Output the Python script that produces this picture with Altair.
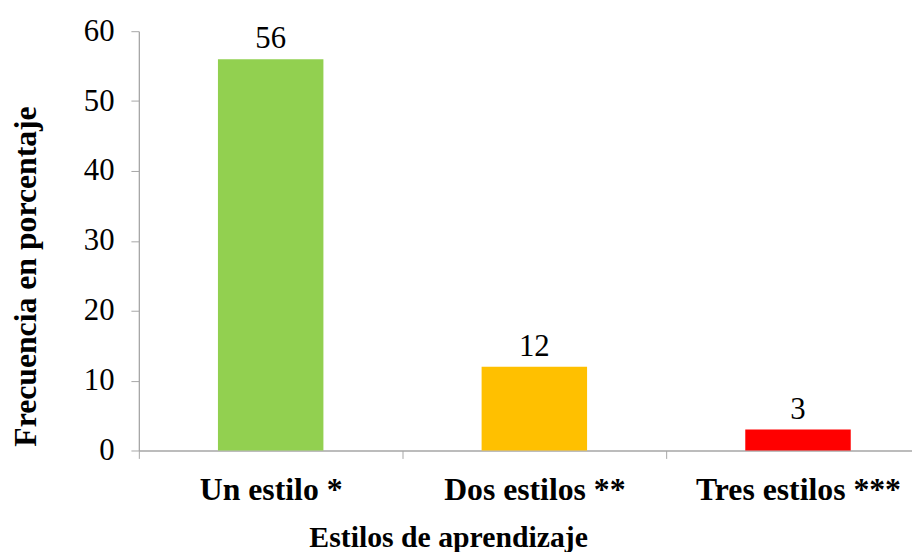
import altair as alt
import pandas as pd

categories = ["Un estilo *", "Dos estilos **", "Tres estilos ***"]
values = [56, 12, 3]
colors = ["#92D050", "#FFC000", "#FF0000"]

df = pd.DataFrame({"cat": categories, "val": values, "color": colors})

FONT = "Liberation Serif"
AXIS_GRAY = "#A6A6A6"

x = alt.X(
    "cat:N",
    sort=categories,
    scale=alt.Scale(paddingInner=0, paddingOuter=0, range=[0, 798]),
    axis=alt.Axis(
        title="Estilos de aprendizaje",
        titleFont=FONT, titleFontSize=30, titleFontWeight="bold", titleColor="black",
        titleX=312, titleY=97, titleAlign="center", titleBaseline="alphabetic",
        labelFont=FONT, labelFontSize=32, labelFontWeight="bold", labelColor="black",
        labelAngle=0, labelBaseline="alphabetic", labelPadding=41, labelLimit=0,
        labelOverlap=False,
        tickBand="extent", tickSize=8, tickColor=AXIS_GRAY, tickWidth=1,
        domainColor=AXIS_GRAY, domainWidth=1.3, grid=False,
    ),
)

y = alt.Y(
    "val:Q",
    scale=alt.Scale(domain=[0, 60], nice=False),
    axis=alt.Axis(
        title="Frecuencia en porcentaje",
        titleFont=FONT, titleFontSize=32, titleFontWeight="bold", titleColor="black",
        titleAngle=-90, titleX=-114, titleY=247, titleAlign="center", titleBaseline="middle",
        labelFont=FONT, labelFontSize=31, labelColor="black", labelPadding=17,
        labelBaseline="middle",
        values=[0, 10, 20, 30, 40, 50, 60],
        tickSize=8, tickColor=AXIS_GRAY, tickWidth=1,
        domainColor=AXIS_GRAY, domainWidth=1.3, grid=False,
    ),
)

bars = alt.Chart(df).mark_bar(width=alt.RelativeBandSize(0.4)).encode(
    x=x, y=y, color=alt.Color("color:N", scale=None)
)

labels = alt.Chart(df).mark_text(
    font=FONT, fontSize=31, color="black", baseline="alphabetic", dy=-11
).encode(
    x=alt.X("cat:N", sort=categories),
    y=alt.Y("val:Q"),
    text=alt.Text("val:Q"),
)

chart = (
    alt.layer(bars, labels)
    .properties(
        width=780,
        height=423,
        autosize=alt.AutoSizeParams(type="none"),
        padding={"left": 132, "top": 21, "right": 0, "bottom": 100},
        background="white",
    )
    .configure_view(stroke=None)
)

chart.save("out.html", embed_options={"renderer": "svg", "actions": False})
